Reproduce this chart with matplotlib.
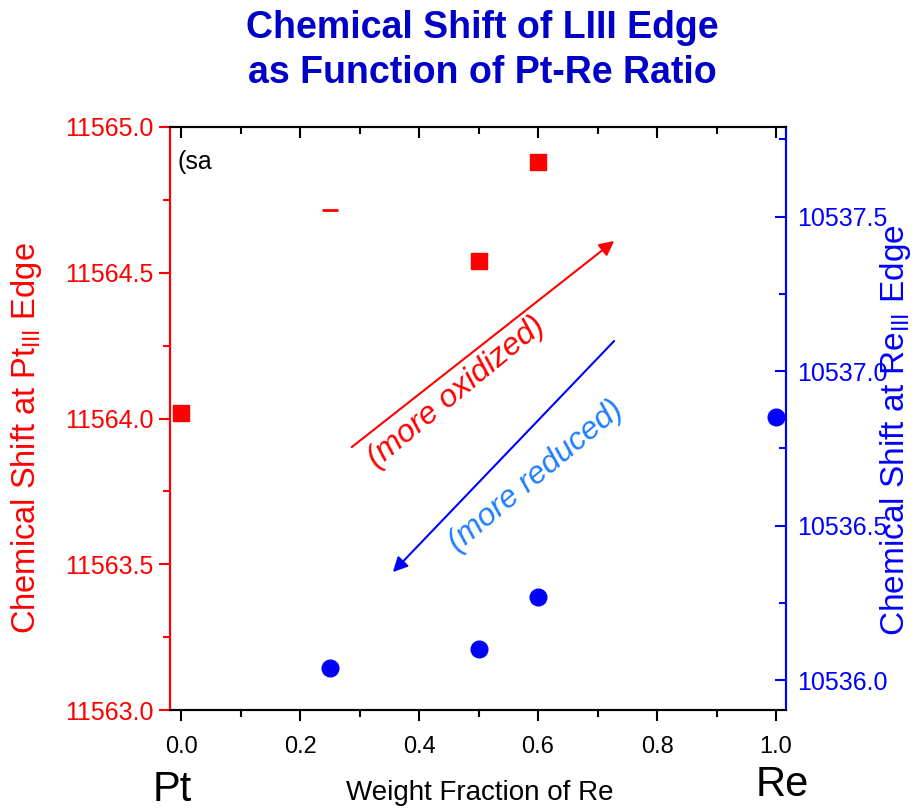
import matplotlib
matplotlib.use("Agg")
import matplotlib.pyplot as plt
from matplotlib.ticker import MultipleLocator, FormatStrFormatter

plt.rcParams['font.family'] = ['Liberation Sans', 'DejaVu Sans']

# Data
pt_x = [0.0, 0.5, 0.6]
pt_y = [11564.02, 11564.54, 11564.88]
pt_dash_x = [0.25]
pt_dash_y = [11564.715]
re_x = [0.25, 0.5, 0.6, 1.0]
re_y = [10536.04, 10536.10, 10536.27, 10536.85]

title_lines = ["Chemical Shift of LIII Edge", "as Function of Pt-Re Ratio"]

RED = '#FF0000'
BLUE = '#0000FF'
LBLUE = '#1E7FFF'
TBLUE = '#0000C8'

fig = plt.figure(figsize=(9.16, 8.10), dpi=100)
ax = fig.add_axes([170/916, 1-710/810, (786-170)/916, (710-127)/810])
ax2 = ax.twinx()

ax.set_xlim(-0.0185, 1.0168)
ax.set_ylim(11563.0, 11565.0)
ax2.set_ylim(10535.903, 10537.79)

ax.plot(pt_x, pt_y, ls='none', marker='s', ms=11, color=RED, mec=RED, zorder=5)
ax.plot(pt_dash_x, pt_dash_y, ls='none', marker='_', ms=11, mew=2, color=RED, zorder=5)
ax2.plot(re_x, re_y, ls='none', marker='o', ms=12, color=BLUE, mec=BLUE, zorder=5)

# spines
for a in (ax, ax2):
    a.spines['left'].set_color(RED)
    a.spines['right'].set_color(BLUE)
    a.spines['top'].set_color('black')
    a.spines['bottom'].set_color('black')
    for s in a.spines.values():
        s.set_linewidth(1.5)

# x ticks
ax.xaxis.set_major_locator(MultipleLocator(0.2))
ax.xaxis.set_minor_locator(MultipleLocator(0.1))
ax.xaxis.set_major_formatter(FormatStrFormatter('%.1f'))
ax.tick_params(axis='x', which='major', direction='out', length=8, width=1.5,
               labelsize=17, pad=11, colors='black')
ax.tick_params(axis='x', which='minor', direction='out', length=5, width=1.5)
# top ticks
ax_top = ax.secondary_xaxis('top')
ax_top.xaxis.set_major_locator(MultipleLocator(0.2))
ax_top.xaxis.set_minor_locator(MultipleLocator(0.1))
ax_top.tick_params(axis='x', which='major', direction='in', length=8, width=1.5, labeltop=False)
ax_top.tick_params(axis='x', which='minor', direction='in', length=5, width=1.5)
ax_top.spines['top'].set_visible(False)

# left y
ax.yaxis.set_major_locator(MultipleLocator(0.5))
ax.yaxis.set_minor_locator(MultipleLocator(0.25))
ax.yaxis.set_major_formatter(FormatStrFormatter('%.1f'))
ax.tick_params(axis='y', which='major', direction='out', length=8, width=1.5,
               colors=RED, labelsize=18, pad=4)
ax.tick_params(axis='y', which='minor', direction='out', length=5, width=1.5, colors=RED)

# right y
ax2.yaxis.set_major_locator(MultipleLocator(0.5))
ax2.yaxis.set_minor_locator(MultipleLocator(0.25))
ax2.yaxis.set_major_formatter(FormatStrFormatter('%.1f'))
ax2.tick_params(axis='y', which='major', direction='in', length=8, width=1.5,
                colors=BLUE, labelsize=18, pad=8)
ax2.tick_params(axis='y', which='minor', direction='in', length=5, width=1.5, colors=BLUE)

ax.set_ylabel(r'Chemical Shift at Pt$_{\mathregular{III}}$ Edge', color=RED, fontsize=23.5)
ax.yaxis.set_label_coords((44-170)/616, 1-(438-127)/583)
ax2.set_ylabel(r'Chemical Shift at Re$_{\mathregular{III}}$ Edge', color=BLUE, fontsize=24)
ax2.yaxis.set_label_coords((878-170)/616, 1-(430-127)/583)

# bottom labels
fig.text(480/916, 1-793/810, 'Weight Fraction of Re', fontsize=20, ha='center', va='center')
fig.text(172/916, 1-790/810, 'Pt', fontsize=30, ha='center', va='center')
fig.text(782/916, 1-785/810, 'Re', fontsize=30, ha='center', va='center')

# title
fig.text(482/916, 1-28/810, title_lines[0], fontsize=27, fontweight='bold', color=TBLUE,
         ha='center', va='center')
fig.text(482/916, 1-73/810, title_lines[1], fontsize=27, fontweight='bold', color=TBLUE,
         ha='center', va='center')

# annotation text
ax.text(-0.006, 11564.88, '(sa', fontsize=18, ha='left', va='center', color='black',
        transform=ax.transData, zorder=6)

# arrows
ax.annotate('', xy=(0.728, 11564.609), xytext=(0.287, 11563.902),
            arrowprops=dict(arrowstyle='-|>', color=RED, lw=1.5, mutation_scale=22,
                            shrinkA=0, shrinkB=0))
ax.annotate('', xy=(0.356, 11563.473), xytext=(0.728, 11564.266),
            arrowprops=dict(arrowstyle='-|>', color=BLUE, lw=1.5, mutation_scale=22,
                            shrinkA=0, shrinkB=0))
ax.text(0.462, 11564.09, '(more oxidized)', fontsize=23, fontstyle='italic', color=RED,
        rotation=39.5, rotation_mode='anchor', ha='center', va='center')
ax.text(0.596, 11563.80, '(more reduced)', fontsize=23, fontstyle='italic', color=LBLUE,
        rotation=40, rotation_mode='anchor', ha='center', va='center')

fig.savefig('out.png', dpi=100)
